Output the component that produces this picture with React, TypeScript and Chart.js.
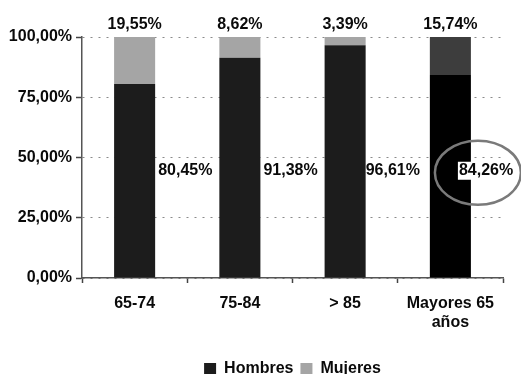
import React, { useEffect, useRef } from "react";
import { Chart, registerables } from "chart.js";

Chart.register(...registerables);

const categories: (string | string[])[] = ["65-74", "75-84", "> 85", ["Mayores 65", "años"]];
const hombres = [80.45, 91.38, 96.61, 84.26];
const mujeres = [19.55, 8.62, 3.39, 15.74];
const yTicks = [0, 25, 50, 75, 100];
const seriesNames = ["Hombres", "Mujeres"];

const FONT = '"Liberation Sans", Arial, Helvetica, sans-serif';
const TEXT = "#0a0a0a";
const HOMBRES_COLOR = "#1c1c1c";
const MUJERES_COLOR = "#a5a5a5";
const HOMBRES_HL = "#000000";
const MUJERES_HL = "#3d3d3d";
const HIGHLIGHT = 3;
const H_LABEL_LEVEL = 44.5;
const H_LABEL_SHIFT = [3, 3, 0, -12];

const fmt = (v: number) => v.toFixed(2).replace(".", ",") + "%";

const labelPlugin = {
  id: "valueLabels",
  afterDatasetsDraw(chart: any) {
    const ctx: CanvasRenderingContext2D = chart.ctx;
    const ys = chart.scales.y;
    const metaH = chart.getDatasetMeta(0);
    const metaM = chart.getDatasetMeta(1);
    ctx.save();
    ctx.font = `bold 16px ${FONT}`;
    ctx.fillStyle = TEXT;
    ctx.textBaseline = "middle";
    metaM.data.forEach((bar: any, i: number) => {
      const p = bar.getProps(["x"], true);
      ctx.textAlign = "center";
      ctx.fillStyle = TEXT;
      ctx.fillText(fmt(mujeres[i]), p.x, ys.getPixelForValue(100) - 12);
    });
    metaH.data.forEach((bar: any, i: number) => {
      const p = bar.getProps(["x", "width"], true);
      const right = p.x + p.width / 2;
      const lx = right + H_LABEL_SHIFT[i];
      const ly = ys.getPixelForValue(H_LABEL_LEVEL);
      const txt = fmt(hombres[i]);
      ctx.textAlign = "left";
      if (i === HIGHLIGHT) {
        const w = ctx.measureText(txt).width;
        ctx.fillStyle = "#ffffff";
        ctx.fillRect(lx - 1, ly - 9, w + 2, 18);
      }
      ctx.fillStyle = TEXT;
      ctx.fillText(txt, lx, ly);
      if (i === HIGHLIGHT) {
        ctx.beginPath();
        ctx.ellipse(right + 7, ly + 2, 43, 32, 0, 0, Math.PI * 2);
        ctx.strokeStyle = "#7a7a7a";
        ctx.lineWidth = 2.5;
        ctx.stroke();
      }
    });
    ctx.restore();
  },
};

export default function App() {
  const ref = useRef<HTMLCanvasElement | null>(null);
  useEffect(() => {
    if (!ref.current) return;
    const chart = new Chart(ref.current, {
      type: "bar",
      data: {
        labels: categories,
        datasets: [
          {
            label: seriesNames[0],
            data: hombres,
            backgroundColor: (c: any) => (c.dataIndex === HIGHLIGHT ? HOMBRES_HL : HOMBRES_COLOR),
            borderWidth: 0,
          },
          {
            label: seriesNames[1],
            data: mujeres,
            backgroundColor: (c: any) => (c.dataIndex === HIGHLIGHT ? MUJERES_HL : MUJERES_COLOR),
            borderWidth: 0,
          },
        ],
      },
      options: {
        responsive: false,
        animation: false,
        events: [],
        layout: { padding: { left: 0, right: 18, top: 37, bottom: -13 } },
        datasets: { bar: { categoryPercentage: 1, barPercentage: 0.39 } },
        scales: {
          x: {
            stacked: true,
            offset: true,
            afterFit: (s: any) => {
              s.height = 76;
            },
            grid: {
              display: true,
              offset: true,
              drawOnChartArea: false,
              drawTicks: true,
              tickLength: 5,
              tickColor: "#444",
              tickWidth: 1.5,
            },
            border: { display: true, color: "#555", width: 1.5 },
            ticks: {
              color: TEXT,
              font: { family: FONT, size: 16, weight: "bold" },
              padding: 11,
              maxRotation: 0,
            },
          },
          y: {
            stacked: true,
            min: 0,
            max: 100,
            afterFit: (s: any) => {
              s.width = 82;
            },
            afterBuildTicks: (s: any) => {
              s.ticks = yTicks.map((v) => ({ value: v }));
            },
            grid: {
              color: "#8a8a8a",
              lineWidth: 1,
              drawTicks: true,
              tickLength: 6,
              tickColor: "#444",
              tickWidth: 1.5,
              tickBorderDash: [],
            },
            border: { display: true, color: "#555", width: 1.5, dash: [2, 6] },
            ticks: {
              color: TEXT,
              font: { family: FONT, size: 16, weight: "bold" },
              padding: 4,
              callback: (v: any) => fmt(Number(v)),
            },
          },
        },
        plugins: {
          legend: {
            position: "bottom",
            fullSize: false,
            labels: {
              boxWidth: 12,
              boxHeight: 12,
              padding: 7,
              color: TEXT,
              font: { family: FONT, size: 16, weight: "bold" },
            },
          },
          tooltip: { enabled: false },
        },
      },
      plugins: [labelPlugin],
    } as any);
    return () => chart.destroy();
  }, []);
  return (
    <div style={{ position: "absolute", left: 0, top: 0, width: 521, height: 374, background: "#fff" }}>
      <canvas ref={ref} width={521} height={374} style={{ display: "block" }} />
    </div>
  );
}
